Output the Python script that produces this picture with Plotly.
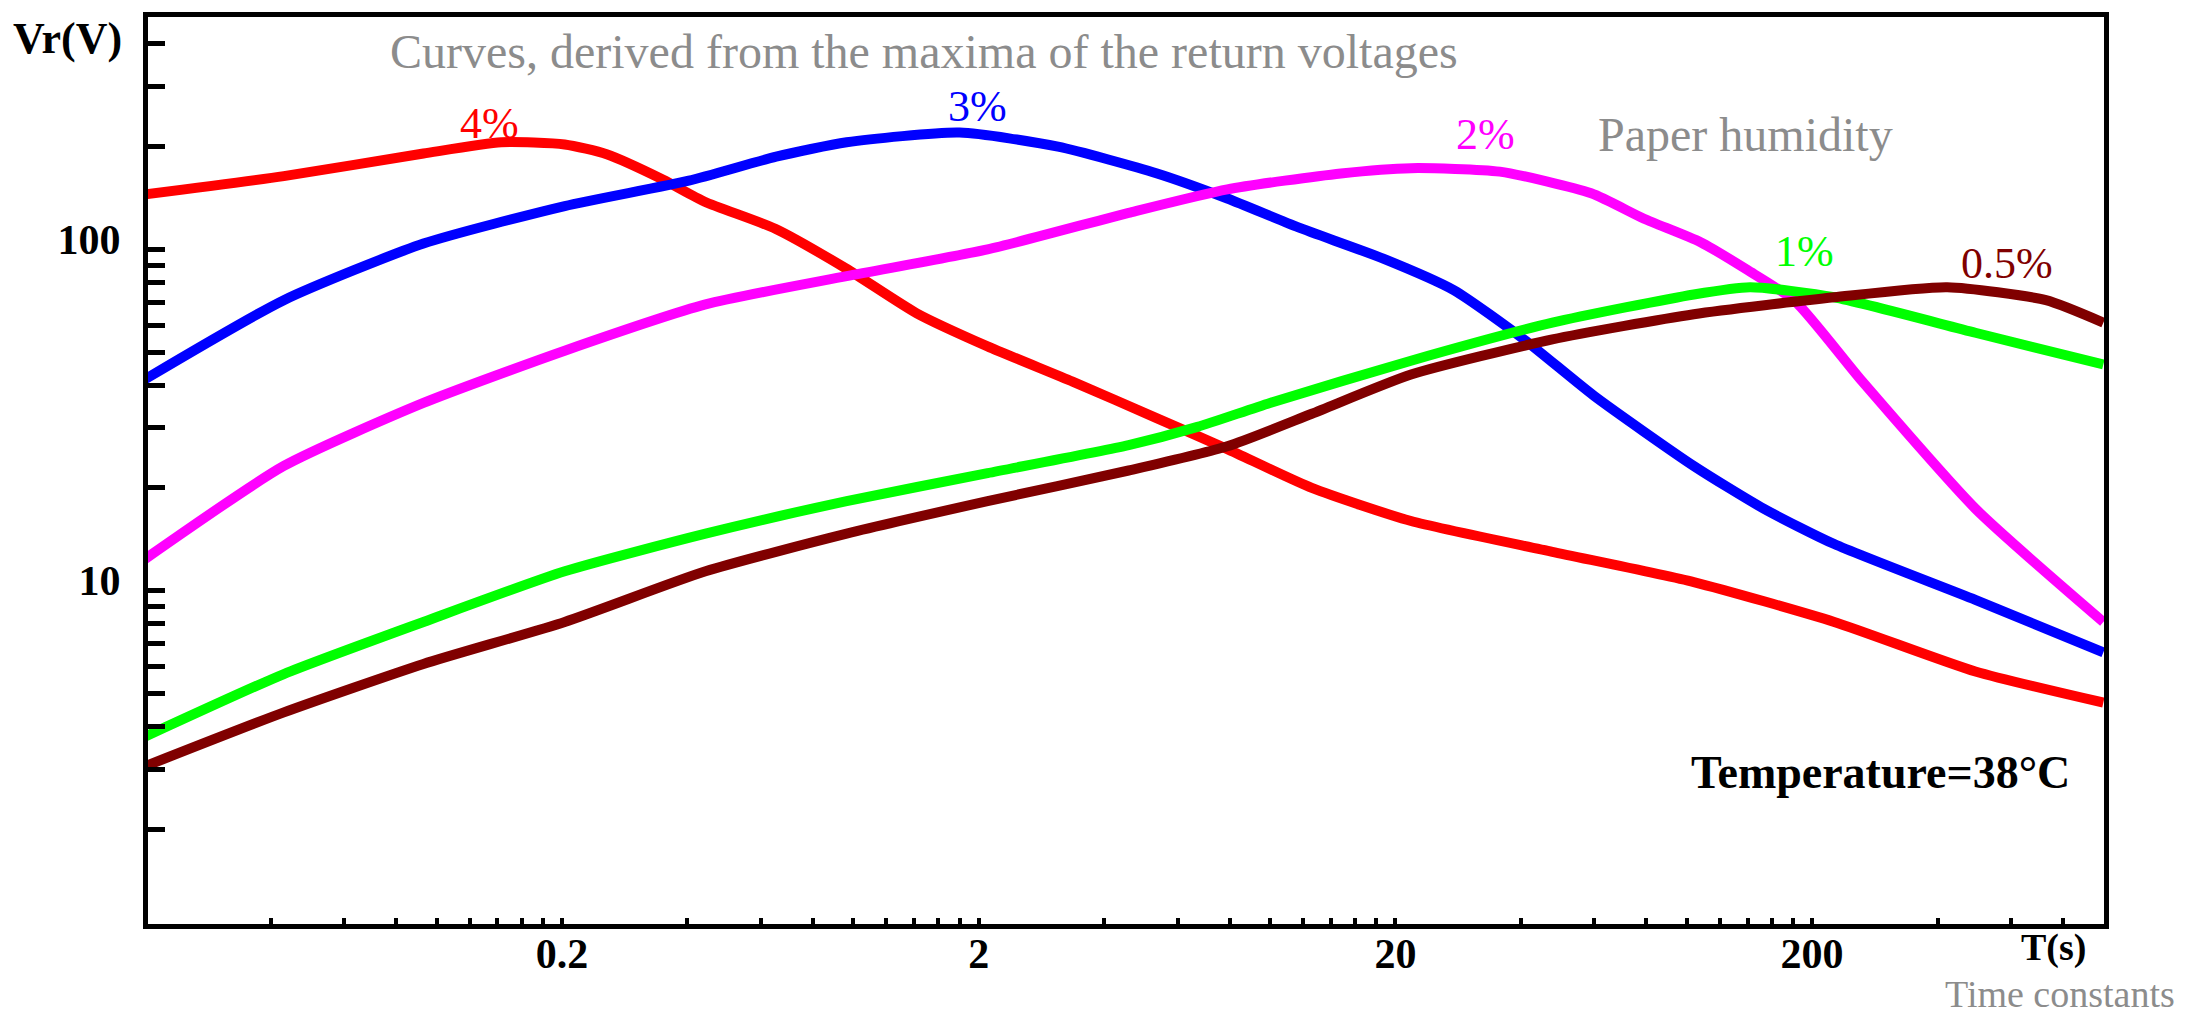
import plotly.graph_objects as go

# ---------------- data ----------------
# time constant T(s) and maximum return voltage Vr(V) for each paper humidity
x_4 = [0.02, 0.043, 0.093, 0.143, 0.203, 0.256, 0.35, 0.44, 0.65, 0.96, 1.42, 2.1, 3.36, 5.36, 7.9, 12.6, 21.8, 47.6, 104, 226, 493, 1000]
y_4 = [145, 164, 191, 206, 203, 190, 160, 138, 115, 88, 65, 52, 41, 32, 26, 20, 16, 13, 10.6, 8.1, 5.8, 4.7]

x_3 = [0.02, 0.043, 0.093, 0.203, 0.403, 0.653, 0.964, 1.8, 3.1, 5.36, 7.9, 11.7, 18.7, 27.6, 40.7, 60, 104, 153, 226, 493, 1000]
y_3 = [41.7, 71, 104, 134, 159, 187, 206, 220, 200, 167, 141, 116, 94, 76, 54.5, 37.2, 23.2, 17.4, 13.7, 9.4, 6.6]

x_2 = [0.02, 0.043, 0.093, 0.203, 0.442, 0.964, 2.1, 4.58, 7.9, 14.8, 21.8, 35.6, 59, 79, 108, 140, 182, 264, 493, 1000]
y_2 = [12.4, 23.2, 35.5, 50.5, 69, 83.5, 100, 128, 150, 167, 173, 169, 146, 123, 105, 87, 70.5, 41, 17.4, 8.1]

x_1 = [0.02, 0.043, 0.093, 0.203, 0.442, 0.964, 2.1, 4.58, 6.7, 10.0, 21.8, 47.6, 104, 142, 226, 493, 1000]
y_1 = [3.74, 5.7, 8.1, 11.4, 14.7, 18.3, 22.1, 26.7, 30.2, 35.5, 47.2, 61, 73.8, 77.5, 72.4, 57, 46]

x_05 = [0.02, 0.043, 0.093, 0.203, 0.442, 0.964, 2.1, 4.58, 7.9, 12.6, 21.8, 47.6, 104, 226, 422, 728, 1000]
y_05 = [3.06, 4.4, 6.1, 8.1, 11.4, 14.7, 18.3, 22.5, 26.5, 33, 43, 54.5, 64.6, 72.4, 77.5, 71, 61]

humidity_labels = ["4%", "3%", "2%", "1%", "0.5%"]
series_colors = ["#ff0000", "#0000ff", "#ff00ff", "#00ff00", "#800000"]

x_tick_vals = [0.2, 2, 20, 200]
x_tick_text = ["0.2", "2", "20", "200"]
y_tick_vals = [10, 100]
y_tick_text = ["10", "100"]

# ---------------- figure ----------------
SERIF = "Liberation Serif"
fig = go.Figure()
series = [(x_4, y_4), (x_3, y_3), (x_2, y_2), (x_1, y_1), (x_05, y_05)]
for (xs, ys), name, col in zip(series, humidity_labels, series_colors):
    fig.add_trace(go.Scatter(x=xs, y=ys, mode="lines", name=name,
                             line=dict(color=col, width=10, shape="spline", smoothing=0.6),
                             showlegend=False, hoverinfo="skip"))

x_minor = [d * k for d in (0.02, 0.2, 2, 20, 200) for k in range(2, 10) if d * k < 1000]
y_minor = [d * k for d in (1, 10, 100) for k in range(2, 10) if d * k < 480]

fig.update_xaxes(type="log", range=[-1.6925, 3.0015],
                 showline=True, linecolor="black", linewidth=5, mirror=True,
                 showgrid=False, zeroline=False,
                 tickvals=x_tick_vals, ticktext=x_tick_text,
                 ticks="inside", ticklen=6, tickwidth=4, tickcolor="black",
                 ticklabelstandoff=-11,
                 tickfont=dict(family=SERIF, size=42, color="black", weight="bold"),
                 minor=dict(tickvals=x_minor, ticks="inside", ticklen=6, tickwidth=4,
                            tickcolor="black", showgrid=False))
fig.update_yaxes(type="log", range=[0.0234, 2.681],
                 showline=True, linecolor="black", linewidth=5, mirror=True,
                 showgrid=False, zeroline=False,
                 tickvals=y_tick_vals, ticktext=y_tick_text,
                 ticks="inside", ticklen=17, tickwidth=5, tickcolor="black",
                 ticklabelstandoff=14, ticklabelshift=-10,
                 tickfont=dict(family=SERIF, size=42, color="black", weight="bold"),
                 minor=dict(tickvals=y_minor, ticks="inside", ticklen=17, tickwidth=5,
                            tickcolor="black", showgrid=False))

GRAY = "#8c8c8c"
ann = [
    ("Vr(V)", -0.0414, 0.9758, 44, "black", "bold"),
    ("Curves, derived from the maxima of the return voltages", 0.3967, 0.9615, 48, GRAY, None),
    ("Paper humidity", 0.8165, 0.8702, 48, GRAY, None),
    ("Temperature=38°C", 0.8855, 0.1672, 46, "black", "bold"),
    ("T(s)", 0.9744, -0.0264, 38, "black", "bold"),
    ("Time constants", 0.9775, -0.0770, 38, GRAY, None),
]
label_pos = [(0.1748, 0.8823), (0.4243, 0.9010), (0.6840, 0.8702), (0.8471, 0.7415), (0.9504, 0.7283)]
for lab, col, (ax_, ay_) in zip(humidity_labels, series_colors, label_pos):
    ann.append((lab, ax_, ay_, 44, col, None))
for text, ax_, ay_, size, col, w in ann:
    f = dict(family=SERIF, size=size, color=col)
    if w:
        f["weight"] = w
    fig.add_annotation(text=text, x=ax_, y=ay_, xref="paper", yref="paper",
                       showarrow=False, xanchor="center", yanchor="middle", font=f)

fig.update_layout(width=2212, height=1016,
                  margin=dict(l=148, r=108, t=15, b=92),
                  paper_bgcolor="white", plot_bgcolor="white")

fig.write_html("out.html", config={"displayModeBar": False},
               post_script="document.body.style.margin='0';document.body.style.overflow='hidden';")
